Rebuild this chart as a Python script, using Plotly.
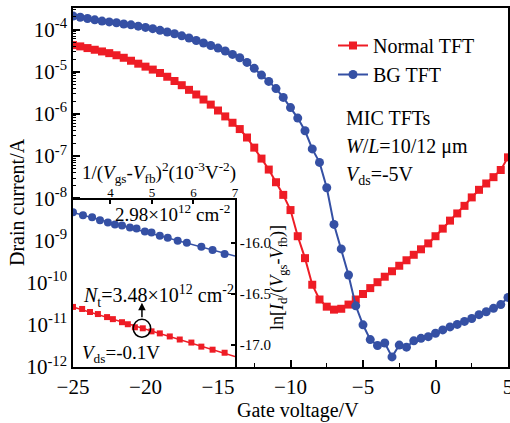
import numpy as np
import plotly.graph_objects as go

# ---------------- data ----------------
gate_voltage = [-25.0, -24.5, -24.0, -23.5, -23.0, -22.5, -22.0, -21.5, -21.0, -20.5,
                -20.0, -19.5, -19.0, -18.5, -18.0, -17.5, -17.0, -16.5, -16.0, -15.5,
                -15.0, -14.5, -14.0, -13.5, -13.0, -12.5, -12.0, -11.5, -11.0, -10.5,
                -10.0, -9.5, -9.0, -8.5, -8.0, -7.5, -7.0, -6.5, -6.0, -5.5,
                -5.0, -4.5, -4.0, -3.5, -3.0, -2.5, -2.0, -1.5, -1.0, -0.5,
                0.0, 0.5, 1.0, 1.5, 2.0, 2.5, 3.0, 3.5, 4.0, 4.5, 5.0]

# log10 of drain current (A)
normal_log10_id = [-4.37, -4.40, -4.44, -4.48, -4.52, -4.56, -4.61, -4.67, -4.74, -4.81,
                   -4.88, -4.95, -5.03, -5.12, -5.22, -5.32, -5.43, -5.54, -5.66, -5.78,
                   -5.92, -6.06, -6.21, -6.36, -6.56, -6.80, -7.06, -7.32, -7.62, -7.92,
                   -8.28, -8.90, -9.42, -10.05, -10.40, -10.57, -10.64, -10.62, -10.52, -10.40,
                   -10.27, -10.13, -9.99, -9.86, -9.73, -9.60, -9.47, -9.34, -9.21, -9.07,
                   -8.90, -8.72, -8.53, -8.36, -8.18, -7.98, -7.80, -7.65, -7.50, -7.33, -7.03]

bg_log10_id = [-3.68, -3.71, -3.74, -3.77, -3.80, -3.82, -3.84, -3.87, -3.89, -3.92,
               -3.95, -3.98, -4.02, -4.06, -4.10, -4.15, -4.20, -4.26, -4.32, -4.38,
               -4.44, -4.51, -4.59, -4.67, -4.78, -4.92, -5.08, -5.23, -5.40, -5.61,
               -5.85, -6.10, -6.40, -6.83, -7.15, -7.75, -8.62, -9.20, -9.82, -10.55,
               -11.00, -11.35, -11.49, -11.43, -11.76, -11.48, -11.53, -11.38, -11.32, -11.28,
               -11.20, -11.12, -11.05, -10.99, -10.92, -10.85, -10.76, -10.69, -10.61, -10.52, -10.35]

# inset: x = 1/(Vgs-Vfb)^2 (1e-3 V^-2), y = ln[Id/(Vgs-Vfb)]
inset_x_bg = [3.10, 3.34, 3.56, 3.75, 3.94, 4.11, 4.28, 4.47, 4.63, 4.83, 4.99, 5.19,
              5.38, 5.62, 5.84, 6.19, 6.46, 6.75]
inset_y_bg = [-15.70, -15.73, -15.75, -15.78, -15.80, -15.82, -15.83, -15.85, -15.86,
              -15.89, -15.90, -15.93, -15.95, -15.98, -16.00, -16.04, -16.07, -16.11]
inset_x_normal = [3.10, 3.32, 3.51, 3.70, 3.92, 4.06, 4.28, 4.42, 4.59, 4.78, 4.99, 5.19,
                  5.43, 5.67, 5.95, 6.19, 6.46, 6.75]
inset_y_normal = [-16.63, -16.65, -16.68, -16.70, -16.73, -16.75, -16.78, -16.80, -16.83,
                  -16.84, -16.87, -16.89, -16.92, -16.95, -16.98, -17.02, -17.05, -17.08]

x_ticks = [-25, -20, -15, -10, -5, 0, 5]
y_decades = [-12, -11, -10, -9, -8, -7, -6, -5, -4]
y_ticktext = ["10<sup>%d</sup>" % d for d in y_decades]
inset_x_ticks = [4, 5, 6, 7]
inset_y_ticks = [-16.0, -16.5, -17.0]
inset_y_ticktext = ["-16.0", "-16.5", "-17.0"]

RED = "#EE1C25"
BLUE = "#3550A4"
FONT = "Liberation Serif, Times New Roman, serif"

# ---------------- figure ----------------
W, H = 510, 423
ML, MR, MT, MB = 73, 2, 8, 56
PW, PH = W - ML - MR, H - MT - MB


def px(x):
    return (x - ML) / PW


def py(y):
    return (H - MB - y) / PH


inset_x1 = px(235)
inset_y1 = py(200)
inset_xrange = [3.1, 7.0]
inset_yrange = [-17.22, -15.58]

fig = go.Figure()

fig.add_trace(go.Scatter(
    x=gate_voltage, y=[10 ** v for v in normal_log10_id], name="Normal TFT",
    mode="lines+markers", line=dict(color=RED, width=2),
    marker=dict(symbol="square", size=8, color=RED)))
fig.add_trace(go.Scatter(
    x=gate_voltage, y=[10 ** v for v in bg_log10_id], name="BG TFT",
    mode="lines+markers", line=dict(color=BLUE, width=2),
    marker=dict(symbol="circle", size=9, color=BLUE)))

# inset traces
for xs, ys, col, sym, sz in [(inset_x_bg, inset_y_bg, BLUE, "circle", 8),
                             (inset_x_normal, inset_y_normal, RED, "square", 6)]:
    k, b = np.polyfit(xs, ys, 1)
    fx = np.array(inset_xrange)
    fig.add_trace(go.Scatter(x=fx, y=k * fx + b, mode="lines", xaxis="x2", yaxis="y2",
                             line=dict(color=col, width=1.5), showlegend=False,
                             hoverinfo="skip"))
    fig.add_trace(go.Scatter(x=xs, y=ys, mode="markers", xaxis="x2", yaxis="y2",
                             marker=dict(symbol=sym, size=sz, color=col),
                             showlegend=False))

minor_x = [v + 2.5 for v in x_ticks[:-1]]
minor_y = [m * 10.0 ** d for d in y_decades[:-1] for m in range(2, 10)] + \
          [m * 1e-4 for m in range(2, 4)]

axis_common = dict(showgrid=False, zeroline=False, showline=True, linecolor="black",
                   linewidth=1.5, tickcolor="black", tickwidth=1.5, automargin=False)

fig.update_layout(
    width=W, height=H,
    margin=dict(l=ML, r=MR, t=MT, b=MB, autoexpand=False),
    paper_bgcolor="white", plot_bgcolor="white",
    font=dict(family=FONT, size=19, color="black"),
    xaxis=dict(range=[-25, 5], tickmode="array", tickvals=x_ticks,
               ticks="inside", ticklen=7, mirror=True, ticklabeloverflow="allow",
               tickfont=dict(size=21),
               minor=dict(tickmode="array", tickvals=minor_x, ticks="inside",
                          ticklen=4, tickcolor="black", tickwidth=1.2),
               **axis_common),
    yaxis=dict(type="log", range=[-12, -3.49], tickmode="array",
               tickvals=[10.0 ** d for d in y_decades], ticktext=y_ticktext,
               ticks="inside", ticklen=7, mirror=True, tickfont=dict(size=21),
               minor=dict(tickmode="array", tickvals=minor_y, ticks="inside",
                          ticklen=3.5, tickcolor="black", tickwidth=1.2),
               **axis_common),
    xaxis2=dict(domain=[0, inset_x1], anchor="y2", side="top", range=inset_xrange,
                tickmode="array", tickvals=inset_x_ticks, ticks="inside", ticklen=4,
                ticklabelstandoff=-4,
                tickfont=dict(size=13), **axis_common),
    yaxis2=dict(domain=[0, inset_y1], anchor="x2", side="right", range=inset_yrange,
                tickmode="array", tickvals=inset_y_ticks, ticktext=inset_y_ticktext,
                ticks="inside", ticklen=4, tickfont=dict(size=15), **axis_common),
    legend=dict(x=px(333), y=py(26), xanchor="left", yanchor="top",
                bgcolor="rgba(0,0,0,0)", font=dict(size=20), tracegroupgap=0),
    showlegend=True,
)

fig.add_shape(type="rect", xref="paper", yref="paper", x0=0, x1=inset_x1, y0=0,
              y1=inset_y1, fillcolor="white", line=dict(color="black", width=1.5),
              layer="below")

# circle + arrow in inset
fig.add_shape(type="circle", xref="x2", yref="y2", x0=4.76 - 0.21, x1=4.76 + 0.21,
              y0=-16.84 - 0.088, y1=-16.84 + 0.088, line=dict(color="black", width=1.5))
fig.add_annotation(x=4.76, y=-16.59, xref="x2", yref="y2", text="", showarrow=True,
                   ax=0, ay=16, arrowhead=2, arrowsize=1, arrowwidth=1.5,
                   arrowcolor="black", standoff=0, startstandoff=0)

ann = [
    dict(text="Drain current/A", x=px(17), y=py(202), textangle=-90, size=20,
         xanchor="center", yanchor="middle"),
    dict(text="Gate voltage/V", x=px(298), y=py(410), size=20,
         xanchor="center", yanchor="middle"),
    dict(text="MIC TFTs", x=px(344), y=py(118), size=20, xanchor="left", yanchor="middle"),
    dict(text="<i>W</i>/<i>L</i>=10/12 μm", x=px(344), y=py(146), size=20,
         xanchor="left", yanchor="middle"),
    dict(text="<i>V</i><sub>ds</sub>=-5V", x=px(344), y=py(175), size=20,
         xanchor="left", yanchor="middle"),
    dict(text="1/(<i>V</i><sub>gs</sub>-<i>V</i><sub>fb</sub>)<sup>2</sup>(10<sup>-3</sup>V<sup>-2</sup>)",
         x=px(80), y=py(172), size=19, xanchor="left", yanchor="middle"),
    dict(text="ln[<i>I</i><sub>d</sub>/(<i>V</i><sub>gs</sub>-<i>V</i><sub>fb</sub>)]",
         x=px(278), y=py(278), textangle=-90, size=18, xanchor="center", yanchor="middle"),
    dict(text="2.98×10<sup>12</sup> cm<sup>-2</sup>", x=px(232), y=py(213), size=19,
         xanchor="right", yanchor="middle"),
    dict(text="<i>N</i><sub>t</sub>=3.48×10<sup>12</sup> cm<sup>-2</sup>", x=px(81),
         y=py(296), size=20, xanchor="left", yanchor="middle"),
    dict(text="<i>V</i><sub>ds</sub>=-0.1V", x=px(80), y=py(354), size=19,
         xanchor="left", yanchor="middle"),
]
for a in ann:
    fig.add_annotation(text=a["text"], x=a["x"], y=a["y"], xref="paper", yref="paper",
                       showarrow=False, textangle=a.get("textangle", 0),
                       xanchor=a["xanchor"], yanchor=a["yanchor"],
                       font=dict(family=FONT, size=a["size"], color="black"))

fig.write_html("out.html", config={"displayModeBar": False},
               post_script="document.body.style.margin='0px';document.body.style.padding='0px';")
